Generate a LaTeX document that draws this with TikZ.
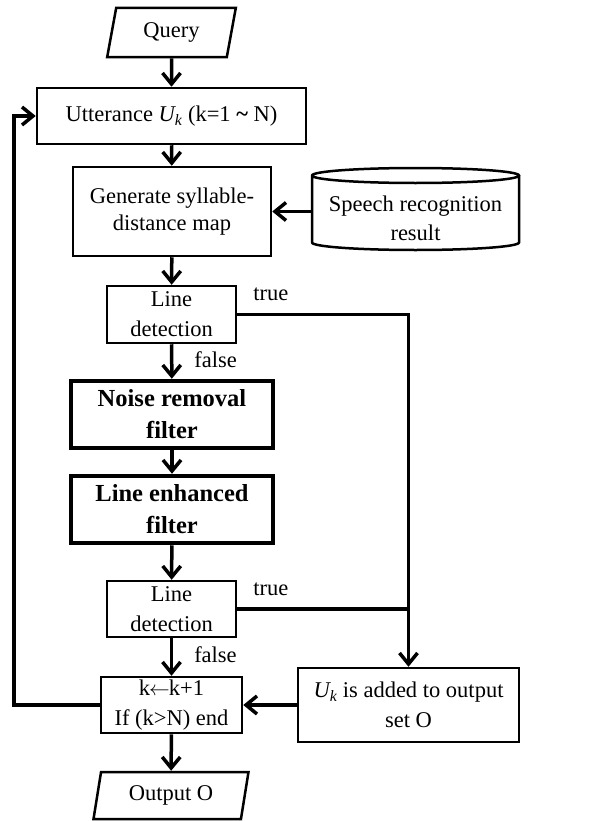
\documentclass[tikz,border=0pt]{standalone}
\usepackage{fontspec}
\setmainfont{Liberation Serif}
\usetikzlibrary{shapes.geometric, arrows.meta, positioning}
\tikzset{
  box/.style={rectangle, draw, line width=2.5bp, inner sep=0pt, align=center},
  boldbox/.style={box, line width=4.5bp, font=\fontsize{24.5bp}{32bp}\selectfont\bfseries},
  io/.style={trapezium, trapezium left angle=77, trapezium right angle=103, trapezium stretches=true, draw, line width=2.5bp, inner sep=0pt},
  arrow/.style={-{Straight Barb[length=11bp, width=18bp, line width=3.5bp]}, line width=3.5bp},
  wire/.style={line width=3.5bp},
  lbl/.style={inner sep=0pt, align=center},
}

\begin{document}
\begin{tikzpicture}[x=1bp, y=-1bp, font=\fontsize{22.5bp}{30bp}\selectfont]
  \useasboundingbox (0,0) rectangle (589,821);
  % main column
  \node[io, minimum width=129bp, minimum height=49bp] (query) at (171.5,32.5) {Query};
  \node[box, minimum width=269bp, minimum height=56bp] (utt) at (171.5,116) {Utterance \textit{U\textsubscript{k}} (k=1 \textbf{\textasciitilde}\ N)};
  \node[box, minimum width=198bp, minimum height=89bp] (gen) at (172,211.5) {Generate syllable-\\[-3bp]distance map};
  \node[box, minimum width=129bp, minimum height=57bp] (det1) at (171.5,314.5) {Line\\detection};
  \node[boldbox, minimum width=202bp, minimum height=67bp] (noise) at (172,414.5) {Noise removal\\filter};
  \node[boldbox, minimum width=202bp, minimum height=67bp] (enh) at (172,509.5) {Line enhanced\\filter};
  \node[box, minimum width=129bp, minimum height=56bp] (det2) at (171.5,609) {Line\\detection};
  \node[box, minimum width=141bp, minimum height=56bp] (next) at (171.5,705) {k\kern-1bp$\leftarrow$\kern-1bp k+1\\If (k>N) end};
  \node[io, minimum width=156bp, minimum height=47bp] (out) at (171,795.5) {Output O};
  % right column: recognition result store
  \node[lbl] (asr) at (415.5,218) {Speech recognition\\[-1bp]result};
  \draw[line width=2.5bp] ([shift={(-103.5,-42.5)}]asr.center) arc[start angle=180, end angle=-180, x radius=103.5, y radius=7.5]
    -- ([shift={(-103.5,24.5)}]asr.center) arc[start angle=180, end angle=0, x radius=103.5, y radius=7.5]
    -- ([shift={(103.5,-42.5)}]asr.center);
  \coordinate (asrin) at ([xshift=-103.5bp]asr.center);
  \node[box, minimum width=221bp, minimum height=74bp] (add) at (408.5,705) {\textit{U\textsubscript{k}} is added to output\\set O};
  \coordinate (back) at (14,705);

  \draw[arrow] (query) -- (utt);
  \draw[arrow] (utt) -- (gen);
  \draw[arrow] (asrin |- gen) -- (gen);
  \draw[arrow] (gen) -- (det1);
  \draw[arrow] (det1) -- node[lbl, right=21bp, yshift=2bp] {false} (noise);
  \draw[arrow] (noise) -- (enh);
  \draw[arrow] (enh) -- (det2);
  \draw[arrow] (det2) -- node[lbl, right=21bp, yshift=2bp] {false} (next);
  \draw[arrow] (next) -- (out);
  \draw[arrow] (det1.east) -| (add.north);
  \draw[wire] (det2.east) -- (det2.east -| add.north);
  \draw[arrow] (add) -- (next);
  \draw[arrow] (next.west) -- (back) |- (utt.west);
  \node[lbl, anchor=south west] at ([xshift=16bp, yshift=-16bp]det1.north east) {true};
  \node[lbl, anchor=south west] at ([xshift=16bp, yshift=-16bp]det2.north east) {true};
\end{tikzpicture}
\end{document}
